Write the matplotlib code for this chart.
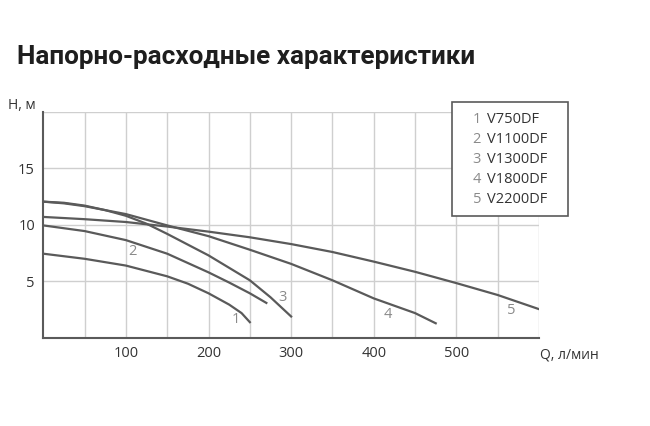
import matplotlib.pyplot as plt
from matplotlib.patches import Rectangle

plt.rcParams['font.family'] = ['Open Sans', 'DejaVu Sans']

# Pump curves: flow Q (l/min) vs head H (m)
q1 = [0, 50, 100, 150, 175, 200, 225, 240, 250]
h1 = [7.45, 7.0, 6.4, 5.45, 4.8, 3.95, 2.95, 2.2, 1.4]

q2 = [0, 50, 100, 150, 200, 225, 250, 270]
h2 = [9.95, 9.45, 8.65, 7.45, 5.8, 4.9, 3.95, 3.1]

q3 = [0, 25, 50, 75, 100, 125, 150, 200, 250, 275, 300]
h3 = [12.05, 11.95, 11.7, 11.3, 10.8, 10.1, 9.2, 7.3, 5.1, 3.6, 1.9]

q4 = [0, 25, 50, 100, 150, 200, 250, 300, 350, 400, 450, 475]
h4 = [12.05, 11.9, 11.65, 10.95, 9.95, 9.0, 7.8, 6.55, 5.1, 3.5, 2.2, 1.3]

q5 = [0, 50, 100, 150, 200, 250, 300, 350, 400, 450, 500, 550, 600]
h5 = [10.7, 10.5, 10.25, 9.85, 9.4, 8.9, 8.3, 7.6, 6.75, 5.85, 4.85, 3.8, 2.55]

curves = [(q1, h1), (q2, h2), (q3, h3), (q4, h4), (q5, h5)]
models = ['V750DF', 'V1100DF', 'V1300DF', 'V1800DF', 'V2200DF']
label_pos = [(233, 1.6), (108, 7.6), (289, 3.6), (417, 2.1), (567, 2.45)]

x_ticks = [100, 200, 300, 400, 500]
y_ticks = [5, 10, 15]

line_col = '#5a5a5a'
text_col = '#333333'
num_col = '#8a8a8a'

fig = plt.figure(figsize=(6.5, 4.26), dpi=100)
ax = fig.add_axes([0.0666, 0.2066, 0.7626, 0.5312])

for x in range(50, 601, 50):
    ax.axvline(x, color='#cfcfcf', lw=1.0, zorder=0)
for y in [5, 10, 15, 20]:
    ax.axhline(y, color='#cfcfcf', lw=1.0, zorder=0)

for q, h in curves:
    ax.plot(q, h, color=line_col, lw=1.6, solid_joinstyle='round', zorder=2)

for i, (lx, ly) in enumerate(label_pos):
    ax.text(lx, ly, str(i + 1), color=num_col, fontsize=10.5,
            ha='center', va='center', zorder=3)

ax.set_xlim(0, 600)
ax.set_ylim(0, 20)
ax.set_xticks(x_ticks)
ax.set_yticks(y_ticks)
ax.tick_params(length=0, labelsize=10.5, labelcolor=text_col, pad=6)
for s in ['top', 'right']:
    ax.spines[s].set_visible(False)
for s in ['left', 'bottom']:
    ax.spines[s].set_color(line_col)
    ax.spines[s].set_linewidth(1.5)

fig.text(0.013, 0.752, 'H, м', fontsize=10, color=text_col, va='center')
fig.text(0.830, 0.167, 'Q, л/мин', fontsize=10, color=text_col, va='center')

fig.text(0.026, 0.866, 'Напорно-расходные характеристики', fontsize=18.8,
         fontweight='bold', family=['Roboto', 'DejaVu Sans'],
         color='#1e1e1e', va='center')

# legend box
box = Rectangle((451.7 / 650, 1 - 216 / 426), 116 / 650, 114.3 / 426,
                transform=fig.transFigure, facecolor='white',
                edgecolor=line_col, lw=1.2, zorder=5)
fig.patches.append(box)
for i, name in enumerate(models):
    yy = 1 - (119.3 + 20 * i) / 426
    fig.text(0.7272, yy, str(i + 1), fontsize=10.5, color=num_col,
             va='center', zorder=6)
    fig.text(0.7485, yy, name, fontsize=10.5, color=text_col,
             va='center', zorder=6)

fig.savefig('out.png', dpi=100)
